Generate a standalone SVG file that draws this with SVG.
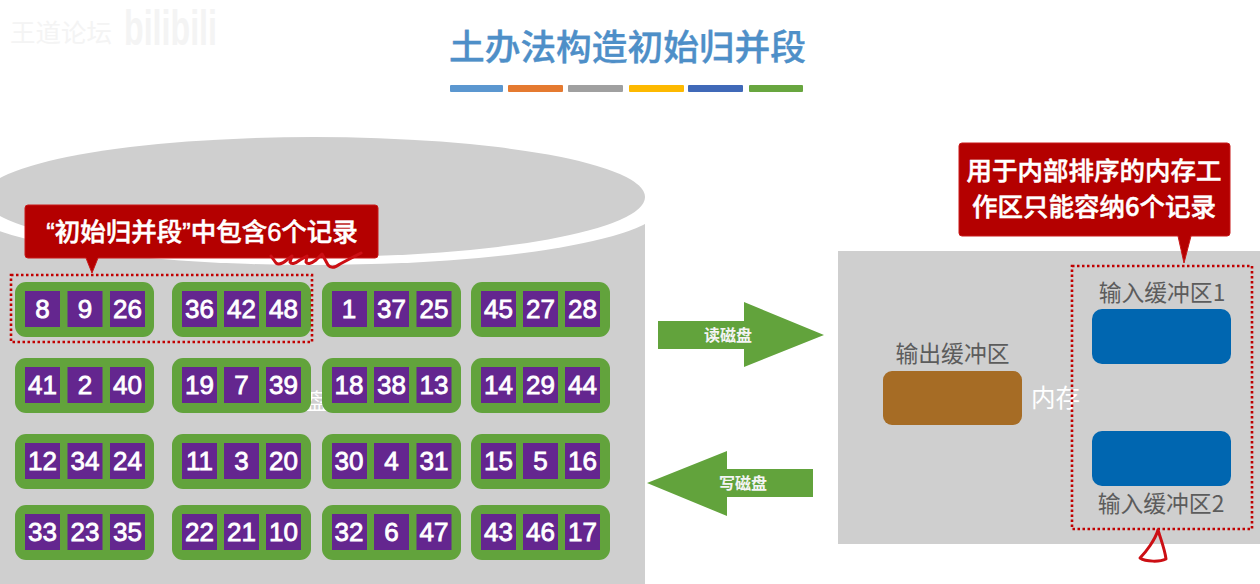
<svg xmlns="http://www.w3.org/2000/svg" width="1260" height="584" viewBox="0 0 1260 584">
<style>
text{font-family:"Liberation Sans","Noto Sans CJK SC",sans-serif}
.cjk{font-family:"Noto Sans CJK SC",sans-serif}
.box{fill:#62a33c}
.cell{fill:#64268f}
.num{fill:#fff;stroke:#fff;stroke-width:.8;font-size:26px;text-anchor:middle}
.callout{fill:#b40000;stroke:#c81818;stroke-width:1}
.ctext{fill:#fff;font-size:25.500px;font-weight:500;stroke:#fff;stroke-width:.5;text-anchor:middle}
.dot{fill:none;stroke:#c00000;stroke-width:2.600;stroke-dasharray:2.500 2.500}
.lab{fill:#5c5c5c;font-size:22.800px;text-anchor:middle}
.arr{fill:#62a33c}
.alab{fill:#f4f4f4;font-size:16px;font-weight:700;text-anchor:middle}
.buf{fill:#0066b0}
.ink{fill:none;stroke:#cc0f14;stroke-width:3;stroke-linejoin:round;stroke-linecap:round}
.wm{fill:#f4f4f4}
</style>
<rect width="1260" height="584" fill="#fff"/>
<g id="watermark">
<text class="cjk wm" x="10" y="42" font-size="25.500">王道论坛</text>
<text class="wm" x="124" y="45" font-size="50" font-weight="700" textLength="93" lengthAdjust="spacingAndGlyphs">bilibili</text>
</g>
<g id="title">
<text class="cjk" x="627.500" y="60" font-size="35.700" font-weight="500" fill="#4e8fc8" stroke="#4e8fc8" stroke-width=".4" text-anchor="middle">土办法构造初始归并段</text>
<rect x="450" y="85" width="53" height="7" rx="1" fill="#5b97d0"/>
<rect x="508" y="85" width="55" height="7" rx="1" fill="#e57a30"/>
<rect x="568" y="85" width="55" height="7" rx="1" fill="#a0a0a0"/>
<rect x="629" y="85" width="55" height="7" rx="1" fill="#fdb900"/>
<rect x="688" y="85" width="55" height="7" rx="1" fill="#4069b8"/>
<rect x="749" y="85" width="54" height="7" rx="1" fill="#68a63f"/>
</g>
<g id="disk">
<rect x="0" y="205" width="645" height="379" fill="#cfcfcf"/>
<ellipse cx="314" cy="205" rx="349" ry="60" fill="#fff"/>
<ellipse cx="314" cy="197" rx="331" ry="60" fill="#cfcfcf"/>
<text class="cjk" x="306" y="409" font-size="22" fill="#fff">盘</text>
</g>
<g id="memory">
<rect x="838" y="251" width="422" height="293" fill="#cfcfcf"/>
<text class="cjk" x="1031" y="407" font-size="24.500" fill="#fff">内存</text>
</g>
<g id="row1">
<g id="seg-8-9-26"><rect class="box" x="15" y="282" width="139" height="55" rx="11"/><rect class="cell" x="25" y="291" width="35" height="36"/><rect class="cell" x="67.500" y="291" width="35" height="36"/><rect class="cell" x="110" y="291" width="35" height="36"/><text class="num" x="42.500" y="318">8</text><text class="num" x="85" y="318">9</text><text class="num" x="127.500" y="318">26</text></g>
<g id="seg-36-42-48"><rect class="box" x="172" y="282" width="139" height="55" rx="11"/><rect class="cell" x="182" y="291" width="35" height="36"/><rect class="cell" x="224" y="291" width="35" height="36"/><rect class="cell" x="266" y="291" width="35" height="36"/><text class="num" x="199.500" y="318">36</text><text class="num" x="241.500" y="318">42</text><text class="num" x="283.500" y="318">48</text></g>
<g id="seg-1-37-25"><rect class="box" x="322" y="282" width="139" height="55" rx="11"/><rect class="cell" x="332" y="291" width="35" height="36"/><rect class="cell" x="374" y="291" width="35" height="36"/><rect class="cell" x="416.500" y="291" width="35" height="36"/><text class="num" x="349" y="318">1</text><text class="num" x="391.500" y="318">37</text><text class="num" x="434" y="318">25</text></g>
<g id="seg-45-27-28"><rect class="box" x="471" y="282" width="139" height="55" rx="11"/><rect class="cell" x="481" y="291" width="35" height="36"/><rect class="cell" x="523" y="291" width="35" height="36"/><rect class="cell" x="565" y="291" width="35" height="36"/><text class="num" x="498.500" y="318">45</text><text class="num" x="540.500" y="318">27</text><text class="num" x="582.500" y="318">28</text></g>
</g>
<g id="row2">
<g id="seg-41-2-40"><rect class="box" x="15" y="358" width="139" height="55" rx="11"/><rect class="cell" x="25" y="367" width="35" height="36"/><rect class="cell" x="67.500" y="367" width="35" height="36"/><rect class="cell" x="110" y="367" width="35" height="36"/><text class="num" x="42.500" y="394">41</text><text class="num" x="85" y="394">2</text><text class="num" x="127.500" y="394">40</text></g>
<g id="seg-19-7-39"><rect class="box" x="172" y="358" width="139" height="55" rx="11"/><rect class="cell" x="182" y="367" width="35" height="36"/><rect class="cell" x="224" y="367" width="35" height="36"/><rect class="cell" x="266" y="367" width="35" height="36"/><text class="num" x="199.500" y="394">19</text><text class="num" x="241.500" y="394">7</text><text class="num" x="283.500" y="394">39</text></g>
<g id="seg-18-38-13"><rect class="box" x="322" y="358" width="139" height="55" rx="11"/><rect class="cell" x="332" y="367" width="35" height="36"/><rect class="cell" x="374" y="367" width="35" height="36"/><rect class="cell" x="416.500" y="367" width="35" height="36"/><text class="num" x="349" y="394">18</text><text class="num" x="391.500" y="394">38</text><text class="num" x="434" y="394">13</text></g>
<g id="seg-14-29-44"><rect class="box" x="471" y="358" width="139" height="55" rx="11"/><rect class="cell" x="481" y="367" width="35" height="36"/><rect class="cell" x="523" y="367" width="35" height="36"/><rect class="cell" x="565" y="367" width="35" height="36"/><text class="num" x="498.500" y="394">14</text><text class="num" x="540.500" y="394">29</text><text class="num" x="582.500" y="394">44</text></g>
</g>
<g id="row3">
<g id="seg-12-34-24"><rect class="box" x="15" y="434" width="139" height="55" rx="11"/><rect class="cell" x="25" y="443" width="35" height="36"/><rect class="cell" x="67.500" y="443" width="35" height="36"/><rect class="cell" x="110" y="443" width="35" height="36"/><text class="num" x="42.500" y="470">12</text><text class="num" x="85" y="470">34</text><text class="num" x="127.500" y="470">24</text></g>
<g id="seg-11-3-20"><rect class="box" x="172" y="434" width="139" height="55" rx="11"/><rect class="cell" x="182" y="443" width="35" height="36"/><rect class="cell" x="224" y="443" width="35" height="36"/><rect class="cell" x="266" y="443" width="35" height="36"/><text class="num" x="199.500" y="470">11</text><text class="num" x="241.500" y="470">3</text><text class="num" x="283.500" y="470">20</text></g>
<g id="seg-30-4-31"><rect class="box" x="322" y="434" width="139" height="55" rx="11"/><rect class="cell" x="332" y="443" width="35" height="36"/><rect class="cell" x="374" y="443" width="35" height="36"/><rect class="cell" x="416.500" y="443" width="35" height="36"/><text class="num" x="349" y="470">30</text><text class="num" x="391.500" y="470">4</text><text class="num" x="434" y="470">31</text></g>
<g id="seg-15-5-16"><rect class="box" x="471" y="434" width="139" height="55" rx="11"/><rect class="cell" x="481" y="443" width="35" height="36"/><rect class="cell" x="523" y="443" width="35" height="36"/><rect class="cell" x="565" y="443" width="35" height="36"/><text class="num" x="498.500" y="470">15</text><text class="num" x="540.500" y="470">5</text><text class="num" x="582.500" y="470">16</text></g>
</g>
<g id="row4">
<g id="seg-33-23-35"><rect class="box" x="15" y="505" width="139" height="55" rx="11"/><rect class="cell" x="25" y="514" width="35" height="36"/><rect class="cell" x="67.500" y="514" width="35" height="36"/><rect class="cell" x="110" y="514" width="35" height="36"/><text class="num" x="42.500" y="541">33</text><text class="num" x="85" y="541">23</text><text class="num" x="127.500" y="541">35</text></g>
<g id="seg-22-21-10"><rect class="box" x="172" y="505" width="139" height="55" rx="11"/><rect class="cell" x="182" y="514" width="35" height="36"/><rect class="cell" x="224" y="514" width="35" height="36"/><rect class="cell" x="266" y="514" width="35" height="36"/><text class="num" x="199.500" y="541">22</text><text class="num" x="241.500" y="541">21</text><text class="num" x="283.500" y="541">10</text></g>
<g id="seg-32-6-47"><rect class="box" x="322" y="505" width="139" height="55" rx="11"/><rect class="cell" x="332" y="514" width="35" height="36"/><rect class="cell" x="374" y="514" width="35" height="36"/><rect class="cell" x="416.500" y="514" width="35" height="36"/><text class="num" x="349" y="541">32</text><text class="num" x="391.500" y="541">6</text><text class="num" x="434" y="541">47</text></g>
<g id="seg-43-46-17"><rect class="box" x="471" y="505" width="139" height="55" rx="11"/><rect class="cell" x="481" y="514" width="35" height="36"/><rect class="cell" x="523" y="514" width="35" height="36"/><rect class="cell" x="565" y="514" width="35" height="36"/><text class="num" x="498.500" y="541">43</text><text class="num" x="540.500" y="541">46</text><text class="num" x="582.500" y="541">17</text></g>
</g>
<g id="connectors">
<g id="read-arrow"><polygon class="arr" points="658,321 744,321 744,302 824,335 744,367 744,349 658,349"/><text class="alab cjk" x="728" y="341">读磁盘</text></g>
<g id="write-arrow"><polygon class="arr" points="813,469 727,469 727,451 647,483 727,516 727,497 813,497"/><text class="alab cjk" x="743" y="489">写磁盘</text></g>
</g>
<g id="output-buffer"><text class="lab cjk" x="952.500" y="362">输出缓冲区</text><rect x="883" y="371" width="139" height="54" rx="9" fill="#a66c25"/></g>
<g id="input-buffer-1"><text class="lab cjk" x="1162" y="301">输入缓冲区1</text><rect class="buf" x="1092" y="309" width="139" height="55" rx="10"/></g>
<g id="input-buffer-2"><rect class="buf" x="1092" y="431" width="139" height="55" rx="10"/><text class="lab cjk" x="1161" y="512">输入缓冲区2</text></g>
<rect id="input-dotted" class="dot" x="1072" y="266" width="180" height="263"/>
<rect id="segment-dotted" class="dot" x="11" y="275" width="301" height="67"/>
<g id="callout-segment">
<path class="callout" d="M28 205H375a3 3 0 0 1 3 3V255a3 3 0 0 1-3 3H98L92 273L86 258H28a3 3 0 0 1-3-3V208a3 3 0 0 1 3-3Z"/>
<text class="ctext" x="202" y="241" style="font-family:'Liberation Sans','Noto Sans CJK SC',sans-serif">“初始归并段”中包含6个记录</text>
</g>
<g id="callout-memory">
<path class="callout" d="M962 143H1227a3 3 0 0 1 3 3V233a3 3 0 0 1-3 3H1191L1184 263L1178 236H962a3 3 0 0 1-3-3V146a3 3 0 0 1 3-3Z"/>
<text class="ctext cjk" x="1094" y="180">用于内部排序的内存工</text>
<text class="ctext cjk" x="1094" y="216">作区只能容纳6个记录</text>
</g>
<g id="annotations">
<path class="ink" d="M271 256L276 263Q280 266 288 259L292 256L290 262Q292 266 300 260L307 256L306 262Q308 266 316 260L322 254L328 265Q332 270 340 264L361 253"/>
<path class="ink" d="M1158 530C1155 540 1146 552 1140 558C1146 562 1160 562 1166 559C1165 550 1161 540 1158 530Z"/>
</g>
</svg>
